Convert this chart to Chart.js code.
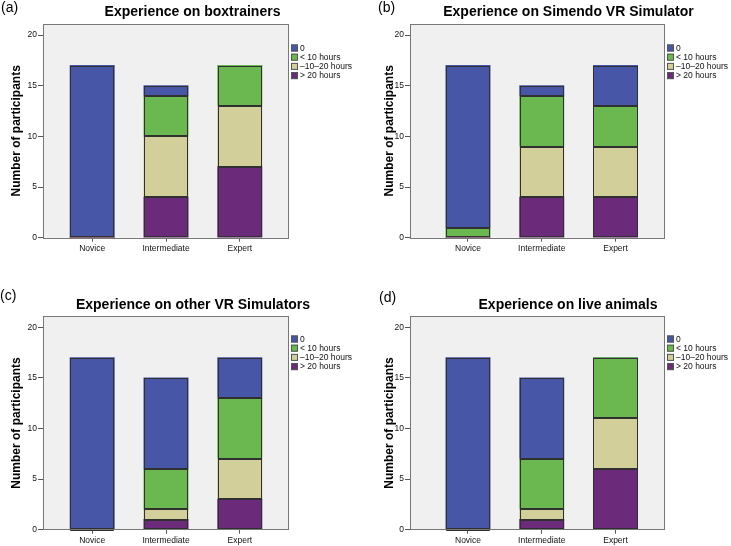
<!DOCTYPE html>
<html><head><meta charset="utf-8">
<script src="https://cdn.jsdelivr.net/npm/chart.js@4/dist/chart.umd.min.js"></script>
<style>
html,body{margin:0;padding:0;background:#fff;}
#wrap{position:relative;width:731px;height:546px;overflow:hidden;}
canvas{position:absolute;}
</style></head><body>
<div id="wrap">
<canvas id="ca" width="365" height="273" style="left:0;top:0"></canvas>
<canvas id="cb" width="366" height="273" style="left:365px;top:0"></canvas>
<canvas id="cc" width="365" height="273" style="left:0;top:273px"></canvas>
<canvas id="cd" width="366" height="273" style="left:365px;top:273px"></canvas>
</div>
<script>
// ---- data ----
const categories = ['Novice', 'Intermediate', 'Expert'];
const seriesLabels = ['0', '< 10 hours', '\u201310\u201320 hours', '> 20 hours'];
const yTicks = [0, 5, 10, 15, 20];
const yAxisTitle = 'Number of participants';
const panelLetters = ['(a)', '(b)', '(c)', '(d)'];
const panelTitles = ['Experience on boxtrainers', 'Experience on Simendo VR Simulator',
                     'Experience on other VR Simulators', 'Experience on live animals'];
// values per panel: [Novice, Intermediate, Expert]
const boxZero   = [17, 1, 0];
const boxLt10   = [0, 4, 4];
const box10to20 = [0, 6, 6];
const boxGt20   = [0, 4, 7];
const simZero   = [16, 1, 4];
const simLt10   = [1, 5, 4];
const sim10to20 = [0, 5, 5];
const simGt20   = [0, 4, 4];
const vrZero    = [17, 9, 4];
const vrLt10    = [0, 4, 6];
const vr10to20  = [0, 1, 4];
const vrGt20    = [0, 1, 3];
const liveZero  = [17, 8, 0];
const liveLt10  = [0, 5, 6];
const live10to20= [0, 1, 5];
const liveGt20  = [0, 1, 6];

const colors = ['#4756a7', '#6bb851', '#d3cf9a', '#6b2a7a'];

const panels = [
  {id:'ca', series:[boxZero, boxLt10, box10to20, boxGt20], left:43, right:289, top:24, bottom:237.7, xmin:0.333, xmax:3.667,
   titleX:192.5, titleY:16, letterX:1, letterY:8, legX:291, legY:48, ytPad:9},
  {id:'cb', series:[simZero, simLt10, sim10to20, simGt20], left:45, right:300, top:24, bottom:237.7, xmin:0.214, xmax:3.671,
   titleX:203.5, titleY:16, letterX:13, letterY:8, legX:302, legY:48, ytPad:17},
  {id:'cc', series:[vrZero, vrLt10, vr10to20, vrGt20], left:43, right:289, top:43.3, bottom:256.7, xmin:0.333, xmax:3.667,
   titleX:193, titleY:36, letterX:0, letterY:23, legX:291, legY:66, ytPad:9},
  {id:'cd', series:[liveZero, liveLt10, live10to20, liveGt20], left:45, right:300, top:43.3, bottom:256.7, xmin:0.214, xmax:3.671,
   titleX:203, titleY:36, letterX:14, letterY:25, legX:302, legY:66, ytPad:17}
];

const FONT = '"Liberation Sans", Arial, sans-serif';

panels.forEach((p, pi) => {
  const canvas = document.getElementById(p.id);
  const W = canvas.width, H = canvas.height;
  // stack bottom-up: >20, 10-20, <10, 0
  const order = [3, 2, 1, 0];
  const datasets = order.map(si => ({
    label: seriesLabels[si],
    data: p.series[si].map((v, i) => ({x: i + 1, y: v})),
    backgroundColor: colors[si],
    borderWidth: 0,
    inflateAmount: 0.5,
    categoryPercentage: 1,
    barPercentage: 0.597
  }));
  const decor = {
    id: 'decor',
    beforeDraw(chart) {
      const ca = chart.chartArea, ctx = chart.ctx;
      ctx.save();
      ctx.fillStyle = '#f0f0f0';
      ctx.fillRect(ca.left, ca.top, ca.right - ca.left, ca.bottom - ca.top);
      ctx.restore();
    },
    afterDatasetsDraw(chart) {
      // crisp outlines around each stacked segment, taken from the bar elements
      const ctx = chart.ctx;
      ctx.save();
      ctx.strokeStyle = '#303030';
      ctx.lineWidth = 1;
      chart.data.datasets.forEach((ds, di) => {
        chart.getDatasetMeta(di).data.forEach(el => {
          const {x, y, base, width} = el.getProps(['x', 'y', 'base', 'width'], true);
          const l = Math.round(x - width / 2) + 0.5, r = Math.round(x + width / 2) - 0.5;
          const t = Math.round(Math.min(y, base)) + 0.5, b = Math.round(Math.max(y, base)) - 0.5;
          if (b - t < 0) {
            ctx.beginPath(); ctx.moveTo(l, t); ctx.lineTo(r, t); ctx.stroke();
          } else {
            ctx.strokeRect(l, t, r - l, b - t);
          }
        });
      });
      ctx.restore();
    },
    afterDraw(chart) {
      const ca = chart.chartArea, ctx = chart.ctx;
      ctx.save();
      ctx.strokeStyle = '#777';
      ctx.lineWidth = 1;
      ctx.strokeRect(Math.round(ca.left) + 0.5, Math.round(ca.top) + 0.5,
                     Math.round(ca.right - ca.left) - 1, Math.round(ca.bottom - ca.top));
      // title
      ctx.fillStyle = '#000';
      ctx.font = 'bold 14px ' + FONT;
      ctx.textAlign = 'center';
      ctx.textBaseline = 'alphabetic';
      ctx.fillText(panelTitles[pi], p.titleX, p.titleY);
      // panel letter
      ctx.font = '14px ' + FONT;
      ctx.textAlign = 'left';
      ctx.textBaseline = 'middle';
      ctx.fillText(panelLetters[pi], p.letterX, p.letterY);
      // legend
      ctx.font = '8.5px ' + FONT;
      seriesLabels.forEach((lab, k) => {
        const y = p.legY + k * 9.2;
        ctx.fillStyle = colors[k];
        ctx.fillRect(p.legX, y - 3.5, 7, 7);
        ctx.strokeStyle = '#555';
        ctx.strokeRect(p.legX + 0.5, y - 3.5 + 0.5, 6, 6);
        ctx.fillStyle = '#111';
        ctx.fillText(lab, p.legX + 9, y + 0.5);
      });
      ctx.restore();
    }
  };
  new Chart(canvas, {
    type: 'bar',
    data: {datasets},
    options: {
      responsive: false,
      animation: false,
      events: [],
      layout: {padding: {left: 0, right: W - p.right, top: p.top, bottom: 0}},
      plugins: {legend: {display: false}, tooltip: {enabled: false}, title: {display: false}},
      scales: {
        x: {
          type: 'linear', stacked: true, min: p.xmin, max: p.xmax, offset: false,
          afterBuildTicks(s) { s.ticks = categories.map((c, i) => ({value: i + 1})); },
          afterFit(s) { s.height = H - p.bottom; },
          ticks: {callback: (v) => categories[v - 1] || '', color: '#111',
                  font: {family: FONT, size: 8.5}, padding: 2, maxRotation: 0, autoSkip: false},
          grid: {display: true, offset: false, drawOnChartArea: false, drawTicks: true, tickLength: 4, color: '#555'},
          border: {display: false}
        },
        y: {
          stacked: true, min: 0, max: 21.1,
          afterBuildTicks(s) { s.ticks = yTicks.map(v => ({value: v})); },
          afterFit(s) { s.width = p.left; },
          ticks: {color: '#111', font: {family: FONT, size: 8.5}, padding: 1},
          grid: {display: true, drawOnChartArea: false, drawTicks: true, tickLength: 5, color: '#555'},
          border: {display: false},
          title: {display: true, text: yAxisTitle, color: '#000',
                  font: {family: FONT, size: 12, weight: 'bold'}, padding: {top: p.ytPad, bottom: 0}}
        }
      }
    },
    plugins: [decor]
  });
});
</script>
</body></html>
